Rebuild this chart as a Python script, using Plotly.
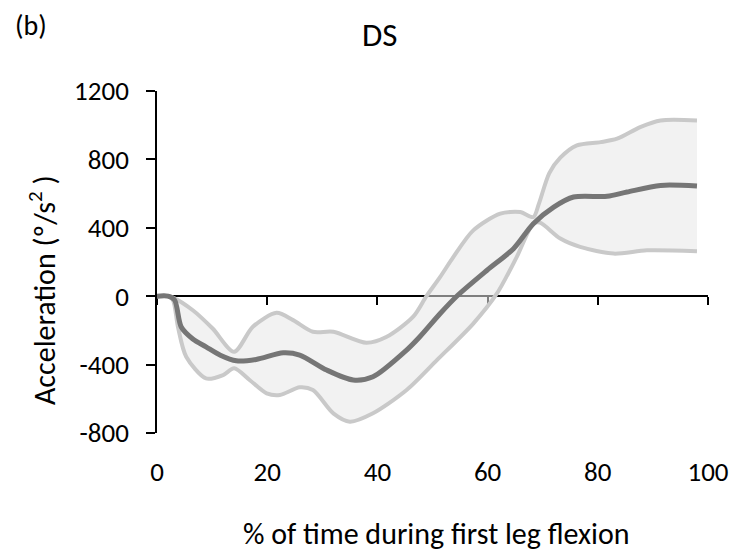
import plotly.graph_objects as go

# % of time (x) and acceleration values (deg/s^2)
mean_x = [0, 2, 3.2, 4.4, 6.5, 8.9, 11.5, 14.4, 18, 22.9, 25.9, 30.8, 35.6, 39.2, 45.3,
          47.7, 51.4, 54.4, 59.9, 64.7, 68.3, 72, 75.6, 81.7, 85.3, 91.4, 98]
mean_y = [0, 0, -23, -180, -250, -296, -345, -378, -370, -331, -344, -432, -490, -471, -315,
          -237, -101, 0, 152, 278, 424, 521, 580, 584, 609, 648, 644]

upper_x = [0, 2, 2.9, 6.5, 10.1, 14, 17.4, 21.7, 24.7, 28.3, 32, 38, 41.7, 46.5, 48.9,
           51.4, 53.8, 57.4, 62.3, 65.9, 68.3, 69.3, 71.2, 73.2, 76.2, 80.5, 83.5, 87.7, 91.4, 98]
upper_y = [0, 0, -8, -82, -189, -325, -179, -97, -140, -208, -208, -272, -237, -120, 0,
           113, 230, 385, 483, 492, 463, 540, 720, 810, 882, 901, 921, 989, 1028, 1028]

lower_x = [0, 2, 2.9, 3.8, 5.3, 8.9, 12, 14, 16.8, 19.9, 22.3, 25.9, 28.3, 32, 35, 39.2,
           45.3, 50.8, 57.4, 61.7, 65.3, 68.3, 69.5, 73.2, 76.8, 82.9, 88.9, 98]
lower_y = [0, 0, -23, -179, -354, -481, -461, -422, -490, -568, -578, -533, -549, -685, -734, -685,
           -549, -374, -160, 16, 230, 424, 430, 337, 288, 249, 268, 263]

x_ticks = [0, 20, 40, 60, 80, 100]
y_ticks = [-800, -400, 0, 400, 800, 1200]
y_tick_text = ["-800", "-400", "0", "400", "800", "1200"]

FONT = "Carlito, Lato, sans-serif"
band_color = "#c9c9c9"

fig = go.Figure()
fig.add_trace(go.Scatter(x=lower_x, y=lower_y, mode="lines",
                         line=dict(color=band_color, width=4, shape="spline", smoothing=0.8),
                         showlegend=False, hoverinfo="skip"))
fig.add_trace(go.Scatter(x=upper_x, y=upper_y, mode="lines", fill="tonexty",
                         fillcolor="rgba(232,232,232,0.55)",
                         line=dict(color=band_color, width=4, shape="spline", smoothing=0.8),
                         showlegend=False, hoverinfo="skip"))
fig.add_trace(go.Scatter(x=mean_x, y=mean_y, mode="lines",
                         line=dict(color="#767676", width=5, shape="spline", smoothing=0.8),
                         showlegend=False, hoverinfo="skip"))
fig.add_trace(go.Scatter(x=[None], y=[None], xaxis="x2", mode="lines",
                         showlegend=False, hoverinfo="skip"))

fig.update_layout(
    width=742, height=556,
    margin=dict(l=157, r=34, t=91, b=123),
    paper_bgcolor="white", plot_bgcolor="white",
    font=dict(family=FONT, color="black"),
    xaxis=dict(range=[0, 100], tickvals=x_ticks, ticks="", showline=False,
               showgrid=False, zeroline=False, tickfont=dict(size=27),
               ticklabelstandoff=20),
    xaxis2=dict(range=[0, 100], overlaying="x", anchor="free", position=0.4,
                side="bottom", tickvals=x_ticks, showticklabels=False,
                ticks="outside", ticklen=8, tickcolor="black", tickwidth=1.5,
                showline=True, linecolor="black", linewidth=1.5,
                showgrid=False, zeroline=False, layer="below traces"),
    yaxis=dict(range=[-800, 1200], tickvals=y_ticks, ticktext=y_tick_text,
               ticks="outside", ticklen=9,
               tickcolor="black", tickwidth=1.5, showline=True, linecolor="black",
               linewidth=1.5, showgrid=False, zeroline=False,
               tickfont=dict(size=27), ticklabelstandoff=12),
)

# titles placed in pixel-derived paper coordinates
pw, ph = 742 - 157 - 34, 556 - 91 - 123
def px(xp):
    return (xp - 157) / pw
def py(yp):
    return (556 - 123 - yp) / ph

fig.update_layout(annotations=[
    dict(text="(b)", x=px(31), y=py(26), xref="paper", yref="paper",
         showarrow=False, font=dict(size=28), xanchor="center", yanchor="middle"),
    dict(text="DS", x=px(379), y=py(35), xref="paper", yref="paper",
         showarrow=False, font=dict(size=33), xanchor="center", yanchor="middle"),
    dict(text="Acceleration (º/s<sup>2</sup> )", x=px(42), y=py(290), xref="paper", yref="paper",
         showarrow=False, font=dict(size=30), textangle=-90,
         xanchor="center", yanchor="middle"),
    dict(text="% of time during first leg flexion", x=px(436), y=py(533),
         xref="paper", yref="paper", showarrow=False, font=dict(size=30),
         xanchor="center", yanchor="middle"),
])

fig.write_html("out.html")
